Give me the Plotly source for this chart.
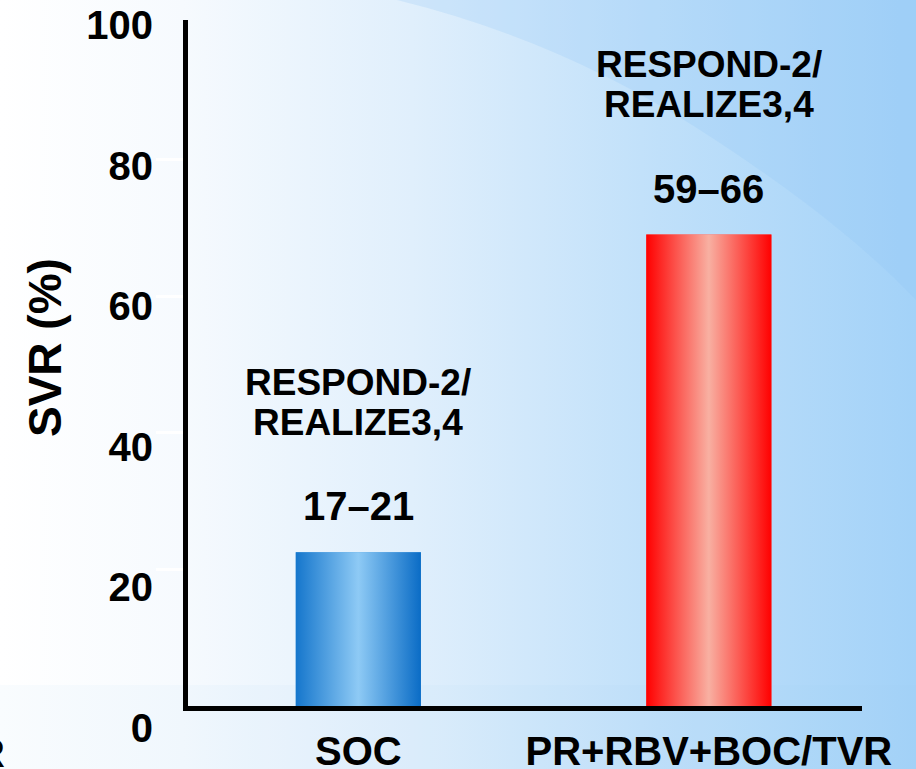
import base64
import plotly.graph_objects as go

# ---- data ----
categories = ["SOC", "PR+RBV+BOC/TVR"]
svr_values = [22.5, 69.0]
value_labels = ["17–21", "59–66"]
study_labels = [["RESPOND-2/", "REALIZE3,4"], ["RESPOND-2/", "REALIZE3,4"]]
y_ticks = [0, 20, 40, 60, 80, 100]
y_minor_marks = [20, 40, 60, 80]
y_title = "SVR (%)"

# ---- styles ----
bar_base = ["#4a9ee0", "#ff5a50"]
bar_scales = [
    [[0, "#1576cc"], [0.5, "#8ecaf5"], [1, "#0a6cc6"]],
    [[0, "#ff0000"], [0.5, "#f8b0a2"], [1, "#ff0000"]],
]
FONT = "Liberation Sans, Arial, sans-serif"
W, H = 916, 769
ML, MR, MT, MB = 188, 54, 20, 29
PW, PH = W - ML - MR, H - MT - MB
bar_w = 0.357

svg = f'''<svg xmlns="http://www.w3.org/2000/svg" width="{W}" height="{H}" viewBox="0 0 {W} {H}">
<defs><linearGradient id="g" x1="0" y1="0" x2="1" y2="0">
<stop offset="0" stop-color="#ffffff"/>
<stop offset="0.2" stop-color="#f6fafe"/>
<stop offset="0.45" stop-color="#e0effc"/>
<stop offset="0.7" stop-color="#c2e1fa"/>
<stop offset="1" stop-color="#a3d2f8"/>
</linearGradient></defs>
<rect width="{W}" height="{H}" fill="url(#g)"/>
<path d="M397,0 Q560,40 700,130 T916,300 L916,0 Z" fill="#8cc6f5" fill-opacity="0.22"/>
<rect x="0" y="685" width="{W}" height="{H-685}" fill="#9ccff6" fill-opacity="0.06"/>
</svg>'''
bg_src = "data:image/svg+xml;base64," + base64.b64encode(svg.encode()).decode()

fig = go.Figure()
xs = list(range(len(categories)))
fig.add_trace(go.Bar(x=xs, y=svr_values, width=bar_w, marker=dict(color=bar_base, line=dict(width=0)),
                     showlegend=False, hoverinfo="skip"))
for i, v in enumerate(svr_values):
    fig.add_trace(go.Scatter(
        x=[i - bar_w / 2, i - bar_w / 2, i + bar_w / 2, i + bar_w / 2],
        y=[0, v, v, 0], mode="lines", fill="toself", line=dict(width=0),
        fillgradient=dict(type="horizontal", colorscale=bar_scales[i]),
        showlegend=False, hoverinfo="skip"))
fig.add_trace(go.Scatter(x=[None], y=[None], yaxis="y2", showlegend=False, hoverinfo="skip"))

for i, v in enumerate(svr_values):
    fig.add_annotation(x=i, y=v, text=f"<b>{value_labels[i]}</b>", showarrow=False,
                       yanchor="middle", yshift=46, font=dict(family=FONT, size=40, color="black"))
    for k, line in enumerate(study_labels[i]):
        fig.add_annotation(x=i, y=v, text=f"<b>{line}</b>", showarrow=False,
                           yanchor="middle", yshift=170 - 40 * k,
                           font=dict(family=FONT, size=37, color="black"))

fig.add_annotation(xref="paper", yref="paper", x=(45 - ML) / PW, y=(H - MB - 348) / PH,
                   text=f"<b>{y_title}</b>", textangle=-90, showarrow=False,
                   xanchor="center", yanchor="middle", font=dict(family=FONT, size=46, color="black"))
fig.add_annotation(xref="paper", yref="paper", x=(7 - ML) / PW, y=(H - MB - 753) / PH,
                   text="<b>R</b>", showarrow=False, xanchor="right", yanchor="middle",
                   font=dict(family=FONT, size=40, color="black"))

fig.add_layout_image(dict(source=bg_src, xref="paper", yref="paper",
                          x=-ML / PW, y=1 + MT / PH, sizex=W / PW, sizey=H / PH,
                          xanchor="left", yanchor="top", sizing="stretch", layer="below"))

y0_px = 706
fig.update_layout(
    width=W, height=H, margin=dict(l=ML, r=MR, t=MT, b=MB, pad=0, autoexpand=False),
    paper_bgcolor="#dcecfb", plot_bgcolor="rgba(0,0,0,0)",
    xaxis=dict(range=[-0.486, 1.437], tickvals=xs, ticktext=[f"<b>{c}</b>" for c in categories],
               showline=True, linewidth=5, linecolor="black", ticks="outside", ticklen=6,
               tickcolor="rgba(0,0,0,0)", tickfont=dict(family=FONT, size=40, color="black"),
               showgrid=False, zeroline=False, fixedrange=True, automargin=False),
    yaxis=dict(domain=[(H - MB - y0_px) / PH, 1], range=[0, 100.4], tickvals=y_minor_marks,
               showticklabels=False, ticks="outside", ticklen=27, tickwidth=3, tickcolor="white",
               showline=True, linewidth=5, linecolor="black", showgrid=False, zeroline=False,
               automargin=False),
    yaxis2=dict(anchor="free", position=0, domain=[0, 1], range=[-1.707, 100.711],
                tickvals=y_ticks, ticktext=[f"<b>{t}</b>" for t in y_ticks],
                ticks="outside", ticklen=27, tickcolor="rgba(0,0,0,0)",
                tickfont=dict(family=FONT, size=40, color="black"),
                showline=False, showgrid=False, zeroline=False, automargin=False),
    showlegend=False,
)

fig.write_html("out.html", config={"displayModeBar": False},
               post_script="document.body.style.margin='0';")
